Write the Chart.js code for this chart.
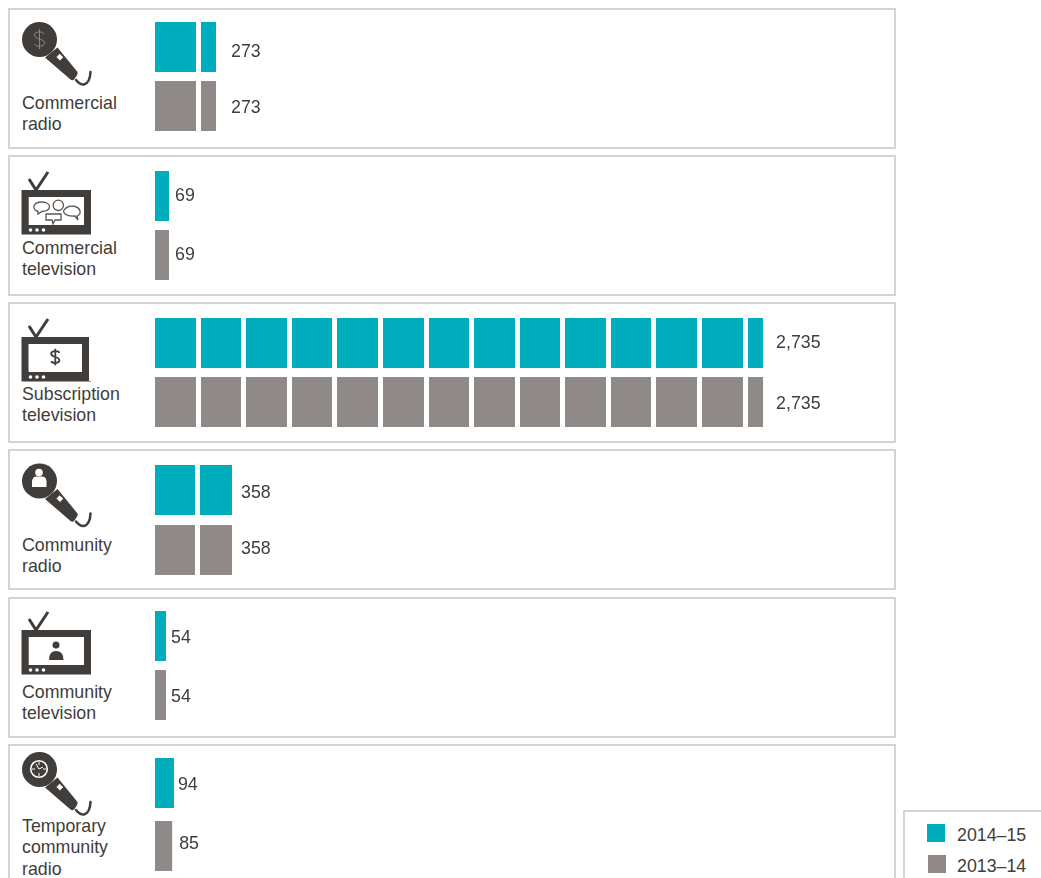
<!DOCTYPE html>
<html>
<head>
<meta charset="utf-8">
<title>Licences by service type</title>
<script src="https://cdn.jsdelivr.net/npm/chart.js@4"></script>
<style>
    html, body { margin: 0; height: 878px; overflow: hidden; background: #fff; }
    body { position: relative; font-family: "Liberation Sans", Arial, sans-serif; font-size: 17.8px; color: #413d3a; }
    .panel { position: absolute; left: 8px; width: 888px; height: 141px; box-sizing: border-box; border: 2px solid #d6d3d3; }
    .name { position: absolute; left: 22px; line-height: 21.3px; white-space: pre-line; }
    canvas { position: absolute; left: 155px; }
    #icons { position: absolute; left: 0; top: 0; }
    #legend { position: absolute; left: 903px; top: 810px; width: 160px; height: 100px; box-sizing: border-box; border: 2px solid #d6d3d3; }
    .swatch { position: absolute; width: 18px; height: 18px; }
    .entry { position: absolute; left: 957px; line-height: 20px; }
</style>
</head>
<body>

<svg id="icons" width="1041" height="878">
    <defs>
        <g id="mic">
            <circle cx="39.5" cy="39.5" r="17.5" fill="#413d3a"/>
            <path d="M45 57.5 L57.5 47.5 L77.5 72 Q78 74 76.5 76 L74 79.5 Q72.5 81 70.5 79.5 Z" fill="#413d3a"/>
            <rect x="57.5" y="55" width="5" height="4.5" transform="rotate(45 60 57)" fill="#fff"/>
            <path d="M76 80 Q80 85 84 84.5 Q90 83 90.5 72" fill="none" stroke="#413d3a" stroke-width="2.5" stroke-linecap="round"/>
        </g>
        <g id="tv">
            <path d="M29 179 L36 190 L48 172" fill="none" stroke="#413d3a" stroke-width="3"/>
            <rect x="21.5" y="190" width="69.5" height="44.5" fill="#413d3a"/>
            <rect x="28.7" y="197" width="55.3" height="28" fill="#fff"/>
            <circle cx="30.5" cy="230" r="1.8" fill="#fff"/>
            <circle cx="37" cy="230" r="1.8" fill="#fff"/>
            <circle cx="43.5" cy="230" r="1.8" fill="#fff"/>
        </g>
    </defs>

    <!-- commercial radio -->
    <use href="#mic"/>
    <path transform="translate(39.5 39)" d="M4.5 -5 C4 -8 -5 -8 -5 -4 C-5 1 5 -1 5 4 C5 8 -4 8 -5 5 M0 -10V10" fill="none" stroke="#9c9996" stroke-width=".8"/>

    <!-- commercial television -->
    <use href="#tv"/>
    <g fill="#fff" stroke="#5a5653" stroke-width="1.3">
        <path d="M38 214 L38 211.5 C32 210 32 202 42 202 C52 202 52 211 42 211.5 Z"/>
        <circle cx="58.3" cy="205.3" r="5.2"/>
        <path d="M78 220 L75 216 C66 217 61 212 65 209 C69 204 79 206 80 211 C80.5 213 79.5 215 77 216 Z"/>
        <path d="M46 214 H61 V220 H55 L53 224 L52 220 H46 Z"/>
    </g>

    <!-- subscription television -->
    <use href="#tv" transform="translate(0 147)"/>
    <rect x="28.7" y="344" width="54" height="26.5" fill="#fff"/>
    <rect x="89" y="337" width="3" height="44" fill="#fff"/>
    <rect x="82" y="337" width="7" height="43.5" fill="#413d3a"/>
    <path transform="translate(55.3 357) scale(.82)" d="M5 -5 C4 -8 -5 -8 -5 -4 C-5 1 5 -1 5 4 C5 8 -4 8 -5 5 M0 -10V10" fill="none" stroke="#413d3a" stroke-width="2.2"/>

    <!-- community radio -->
    <use href="#mic" transform="translate(0 441.5)"/>
    <circle cx="39" cy="472.5" r="3.8" fill="#fff"/>
    <path d="M32 487 V481 Q33 476.5 36 476.5 H42 Q46 476.5 46.5 481 V487 Z" fill="#fff"/>

    <!-- community television -->
    <use href="#tv" transform="translate(0 440)"/>
    <circle cx="56" cy="645" r="3.5" fill="#413d3a"/>
    <path d="M49 660 Q49 651 56 651 Q63.5 651 63.5 660 Z" fill="#413d3a"/>

    <!-- temporary community radio -->
    <use href="#mic" transform="translate(0 730)"/>
    <circle cx="39" cy="769" r="8.3" fill="none" stroke="#fff" stroke-width="1.6"/>
    <path d="M39 762 V765 M39 773 V776 M32 769 H35 M43 769 H46 M36 764 L39 769 L43 767" fill="none" stroke="#fff" stroke-width="1"/>
</svg>

<div id="legend"></div>
<div class="swatch" style="left:927px;top:824px;background:#00adbd"></div>
<div class="entry" style="top:825px">2014–15</div>
<div class="swatch" style="left:928px;top:855px;background:#8f8a87"></div>
<div class="entry" style="top:856px">2013–14</div>

<script>
const services = ['Commercial\nradio', 'Commercial\ntelevision', 'Subscription\ntelevision', 'Community\nradio', 'Community\ntelevision', 'Temporary\ncommunity\nradio'];
const seriesNames = ['2014–15', '2013–14'];
const values1415 = [273, 69, 2735, 358, 54, 94];
const values1314 = [273, 69, 2735, 358, 54, 85];

// the source is drawn by hand, so each panel has its own slightly different scale
const axisMax = [3290, 3623, 3306, 3417, 3608, 3640];
const colours = ['#00adbd', '#8f8a87'];
const blockSize = 205;
const gapShift = [11, 11, 11, 7, 11, 11];

// panel layout, in page pixels
const panelTop = [8, 155, 302, 449, 597, 744];
const firstBarCentre = [47, 196, 343, 490, 636, 783];
const barPitch = [59, 59, 59, 60, 59, 63];
const barHeight = 50;
const nameTop = [93, 238, 384, 535, 682, 816];
const labelDx = [[15, 15], [6, 6], [13, 13], [9, 9], [5, 5], [4, 7]];
const labelDy = [[5, 2], [0, 0], [0, 2], [3, -1], [2, 2], [2, -2]];

const valueLabels = {
    id: 'valueLabels',
    // after the white grid lines, which would otherwise cut through the text
    afterDraw(chart, args, opts) {
        const ctx = chart.ctx;
        ctx.save();
        ctx.font = '17.8px "Liberation Sans", Arial, sans-serif';
        ctx.fillStyle = '#413d3a';
        ctx.textBaseline = 'middle';
        chart.data.datasets.forEach((ds, i) => {
            const bar = chart.getDatasetMeta(i).data[0];
            ctx.fillText(ds.data[0].toLocaleString('en-AU'), bar.x + opts.dx[i], bar.y + opts.dy[i]);
        });
        ctx.restore();
    }
};

services.forEach((service, p) => {
    const panel = document.createElement('div');
    panel.className = 'panel';
    panel.style.top = panelTop[p] + 'px';
    document.body.insertBefore(panel, document.getElementById('icons'));

    const name = document.createElement('div');
    name.className = 'name';
    name.style.top = nameTop[p] + 'px';
    name.textContent = service;
    document.body.appendChild(name);

    // half a pixel of padding keeps the bars on whole pixels when the pitch is odd
    const pad = barPitch[p] % 2 / 2;
    const canvas = document.createElement('canvas');
    canvas.width = 735;
    canvas.height = 2 * barPitch[p] + 2 * pad;
    canvas.style.top = (firstBarCentre[p] - barPitch[p] / 2 - pad) + 'px';
    document.body.appendChild(canvas);

    new Chart(canvas, {
        type: 'bar',
        plugins: [valueLabels],
        data: {
            labels: [service.replace(/\n/g, ' ')],
            datasets: [
                { label: seriesNames[0], data: [values1415[p]], backgroundColor: colours[0] },
                { label: seriesNames[1], data: [values1314[p]], backgroundColor: colours[1] }
            ]
        },
        options: {
            indexAxis: 'y',
            responsive: false,
            animation: false,
            layout: { padding: { top: pad, bottom: pad, left: 0, right: 0 } },
            datasets: { bar: { categoryPercentage: 1, barPercentage: barHeight / barPitch[p] } },
            plugins: {
                legend: { display: false },
                tooltip: { enabled: false },
                valueLabels: { dx: labelDx[p], dy: labelDy[p] }
            },
            scales: {
                y: { display: false },
                x: {
                    min: 0,
                    max: axisMax[p],
                    border: { display: false },
                    ticks: { display: false },
                    // white grid lines on top of the bars cut them into blocks
                    grid: { color: '#fff', lineWidth: 5, z: 1, drawTicks: false },
                    afterBuildTicks(scale) {
                        const ticks = [];
                        for (let v = blockSize - gapShift[p]; v < scale.max; v += blockSize) ticks.push({ value: v });
                        scale.ticks = ticks;
                    }
                }
            }
        }
    });
});
</script>
</body>
</html>
